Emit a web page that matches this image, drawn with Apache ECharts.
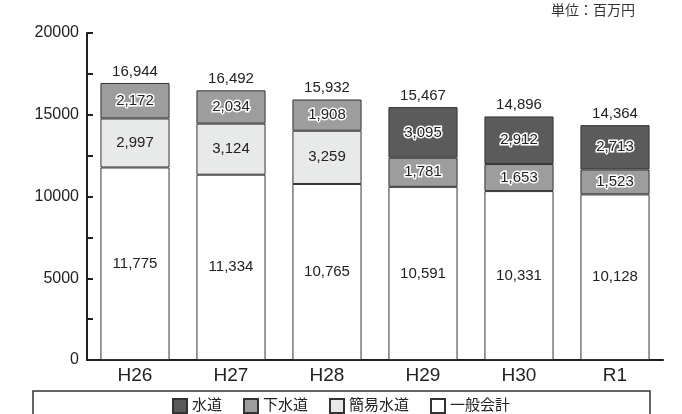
<!DOCTYPE html>
<html>
<head>
<meta charset="utf-8">
<script src="https://cdn.jsdelivr.net/npm/echarts@6/dist/echarts.min.js"></script>
<style>
  html, body { margin: 0; padding: 0; background: #fff; }
  #chart { width: 682px; height: 414px; }
</style>
</head>
<body>
<div id="chart"></div>
<script>
// 年度
const categories = ['H26', 'H27', 'H28', 'H29', 'H30', 'R1']
// 一般会計
const ippanKaikei = [11775, 11334, 10765, 10591, 10331, 10128]
// 簡易水道
const kanisuido = [2997, 3124, 3259, '-', '-', '-']
// 下水道
const gesuido = [2172, 2034, 1908, 1781, 1653, 1523]
// 水道
const suido = ['-', '-', '-', 3095, 2912, 2713]
// 合計（棒の上に表示）
const totals = [16944, 16492, 15932, 15467, 14896, 14364]

const FONT = '"Liberation Sans", Arial, "Noto Sans CJK JP", sans-serif'
const fmt = v => Number(v).toLocaleString('en-US')

function barSeries(name, data, color, halo) {
  return {
    name: name,
    type: 'bar',
    stack: 'total',
    barWidth: '72%',
    data: data,
    itemStyle: { color: color, borderColor: '#333', borderWidth: 1 },
    label: {
      show: true,
      position: 'inside',
      fontFamily: FONT,
      fontSize: 15,
      color: '#222',
      textBorderColor: halo ? '#fff' : 'transparent',
      textBorderWidth: halo ? 3 : 0,
      formatter: p => fmt(p.value)
    }
  }
}

const chart = echarts.init(document.getElementById('chart'))
chart.setOption({
  animation: false,
  grid: { left: 87, right: 19, top: 33, bottom: 54 },
  legend: {
    left: 'center',
    top: 398,
    padding: 0,
    itemWidth: 14,
    itemHeight: 14,
    itemGap: 21,
    icon: 'rect',
    textStyle: { fontFamily: FONT, fontSize: 15, color: '#222' },
    data: ['水道', '下水道', '簡易水道', '一般会計']
  },
  graphic: [
    {
      type: 'rect',
      shape: { x: 33, y: 391, width: 617, height: 30 },
      style: { fill: 'none', stroke: '#333', lineWidth: 1.5 },
      z: 0
    },
    {
      type: 'text',
      left: 551,
      top: 4,
      style: { text: '単位：百万円', fontFamily: FONT, fontSize: 14, fill: '#333' }
    }
  ],
  xAxis: {
    type: 'category',
    data: categories,
    axisLine: { lineStyle: { color: '#231f1f', width: 2 } },
    axisTick: { inside: true, length: 8, lineStyle: { color: '#231f1f', width: 2 } },
    axisLabel: { fontFamily: FONT, fontSize: 19, color: '#222', margin: 6 }
  },
  yAxis: {
    type: 'value',
    min: 0,
    max: 20000,
    interval: 2500,
    axisLine: { show: true, lineStyle: { color: '#231f1f', width: 2 } },
    axisTick: { show: true, inside: true, length: 6, lineStyle: { color: '#231f1f', width: 2 } },
    axisLabel: {
      fontFamily: FONT,
      fontSize: 16,
      color: '#222',
      margin: 8,
      formatter: v => (v % 5000 === 0 ? String(v) : '')
    },
    splitLine: { show: false }
  },
  series: [
    barSeries('一般会計', ippanKaikei, '#ffffff', false),
    barSeries('簡易水道', kanisuido, '#e8e9e9', false),
    barSeries('下水道', gesuido, '#9d9d9d', true),
    barSeries('水道', suido, '#5c5b5b', true),
    {
      name: '合計',
      type: 'bar',
      stack: 'total',
      barWidth: '72%',
      data: categories.map(() => 0),
      itemStyle: { color: 'transparent', borderWidth: 0 },
      label: {
        show: true,
        position: 'top',
        distance: 4,
        fontFamily: FONT,
        fontSize: 15,
        color: '#222',
        formatter: p => fmt(totals[p.dataIndex])
      }
    }
  ]
})
</script>
</body>
</html>
